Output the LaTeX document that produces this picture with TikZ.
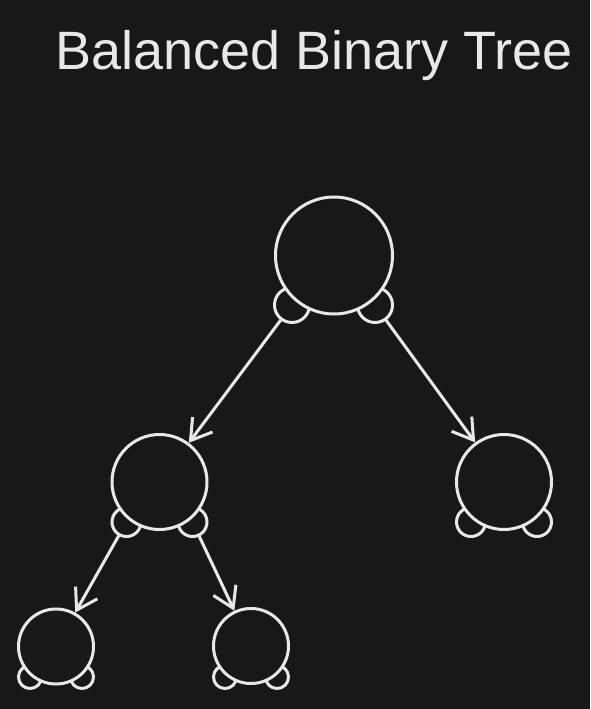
\documentclass[tikz,border=0pt]{standalone}
\usepackage{fontspec}
\setmainfont{Liberation Sans}
\usetikzlibrary{arrows.meta}
\definecolor{bg}{HTML}{181818}
\definecolor{ink}{HTML}{E8E8E8}

\begin{document}
\begin{tikzpicture}[x=1pt,y=-1pt,line width=3pt,line cap=round,ink,
    >={Straight Barb[length=20pt,width=25pt,line width=3pt]},
    ear/.style={circle,draw=ink,inner sep=0pt},
    knot/.style={circle,draw=ink,fill=bg,inner sep=0pt}]
      % dark page
      \fill[bg] (0,0) rectangle (590,709);
      % the title
      \node[font=\fontsize{54}{60}\selectfont,text=ink,anchor=base] (title) at (314,70) {Balanced Binary Tree};
      % ears first, so the bodies hide their upper halves
      \node[ear,minimum size=35pt] (rootL) at (292,305) {};
      \node[ear,minimum size=35pt] (rootR) at (375,305) {};
      \node[ear,minimum size=29pt] (leftL) at (126.5,522) {};
      \node[ear,minimum size=29pt] (leftR) at (192.5,522) {};
      \node[ear,minimum size=29pt] (rightL) at (471,522) {};
      \node[ear,minimum size=29pt] (rightR) at (537,522) {};
      \node[ear,minimum size=23pt] (leafaL) at (30,677) {};
      \node[ear,minimum size=23pt] (leafaR) at (82,677) {};
      \node[ear,minimum size=23pt] (leafbL) at (225,677) {};
      \node[ear,minimum size=23pt] (leafbR) at (277,677) {};
      % the bodies
      \node[knot,minimum size=117pt] (root) at (334,255.5) {};
      \node[knot,minimum size=95pt] (left) at (159.5,482) {};
      \node[knot,minimum size=95pt] (right) at (504,482) {};
      \node[knot,minimum size=75pt] (leafa) at (56,646.5) {};
      \node[knot,minimum size=75pt] (leafb) at (251,646) {};
      % edges from the ears down to the children
      \draw[->] (rootL) -- (left);
      \draw[->] (rootR) -- (right);
      \draw[->] (leftL) -- (leafa);
      \draw[->] (leftR) -- (leafb);
    \end{tikzpicture}
\end{document}
